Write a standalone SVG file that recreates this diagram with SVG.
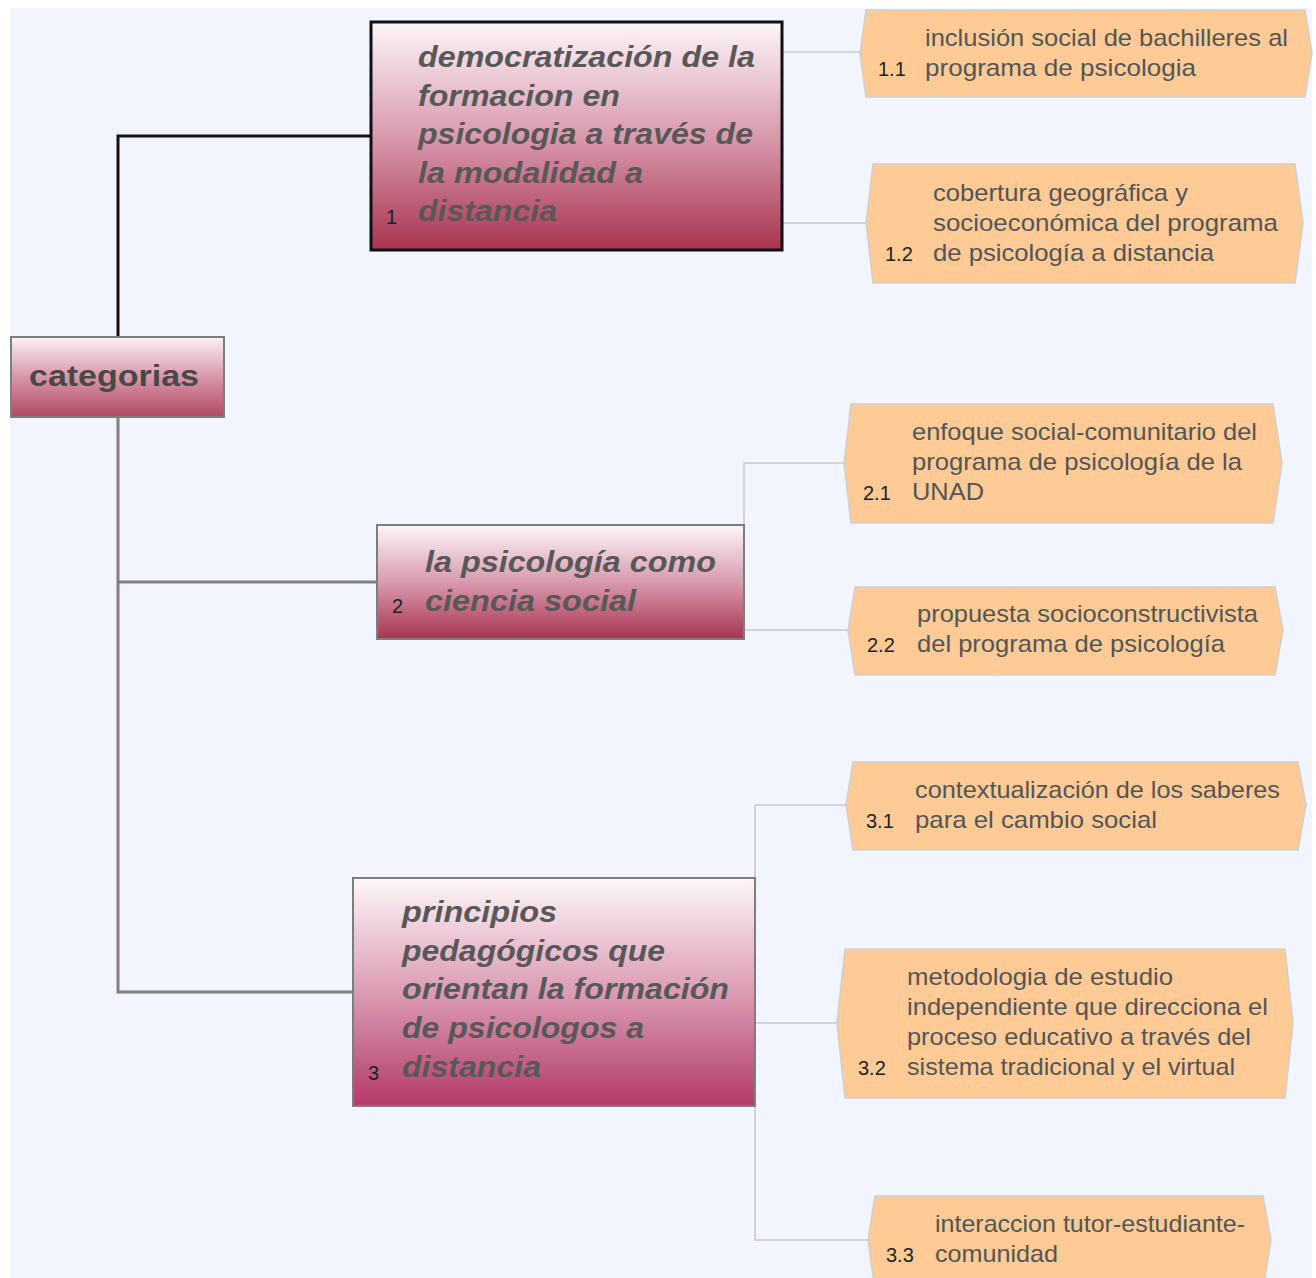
<svg xmlns="http://www.w3.org/2000/svg" width="1316" height="1278" viewBox="0 0 1316 1278">
<defs>
<linearGradient id="gPink" x1="0" y1="0" x2="0" y2="1">
<stop offset="0" stop-color="#fdf6f9"/>
<stop offset="0.5" stop-color="#d99aae"/>
<stop offset="1" stop-color="#a8344f"/>
</linearGradient>
<linearGradient id="gPink3" x1="0" y1="0" x2="0" y2="1">
<stop offset="0" stop-color="#fdf6f9"/>
<stop offset="0.5" stop-color="#db9cb4"/>
<stop offset="1" stop-color="#b33a68"/>
</linearGradient>
<linearGradient id="gRoot" x1="0" y1="0" x2="0" y2="1">
<stop offset="0" stop-color="#fbf2f5"/>
<stop offset="0.5" stop-color="#d896a8"/>
<stop offset="1" stop-color="#b04a62"/>
</linearGradient>
</defs>
<style>
.main{font-family:"Liberation Sans",Arial,sans-serif;font-weight:bold;font-style:italic;font-size:29px;fill:#585858}
.root{font-family:"Liberation Sans",Arial,sans-serif;font-weight:bold;font-size:30px;fill:#484848}
.num{font-family:"Liberation Sans",Arial,sans-serif;font-size:20px;fill:#222}
.lnum{font-family:"Liberation Sans",Arial,sans-serif;font-size:20px;fill:#222}
.leaf{font-family:"Liberation Sans",Arial,sans-serif;font-size:24px;fill:#555}
.leafshape{fill:#fecb96;stroke:#cfcfcf;stroke-width:1.5}
.thin{stroke:#c8c8c8;stroke-width:1.5;fill:none}
</style>
<rect x="0" y="0" width="1316" height="1278" fill="#ffffff"/>
<rect x="10" y="8" width="1302" height="1270" fill="#f2f5fd"/>

<g id="connectors">
<polyline points="118,337 118,136 370,136" fill="none" stroke="#111" stroke-width="3"/>
<polyline points="118,417 118,992 353,992" fill="none" stroke="#808080" stroke-width="3"/>
<line x1="118" y1="582" x2="376" y2="582" stroke="#808080" stroke-width="3"/>
<line class="thin" x1="783" y1="52" x2="860" y2="52"/>
<line class="thin" x1="783" y1="223" x2="866" y2="223"/>
<polyline class="thin" points="744,525 744,463 844,463"/>
<line class="thin" x1="744" y1="630" x2="848" y2="630"/>
<polyline class="thin" points="755,805 846,805"/>
<polyline class="thin" points="755,805 755,1240 868,1240"/>
<line class="thin" x1="755" y1="1023" x2="837" y2="1023"/>
</g>

<g id="root">
<rect x="11" y="337" width="213" height="80" fill="url(#gRoot)" stroke="#7d7d7d" stroke-width="2"/>
<text class="root" x="29" y="386" textLength="170" lengthAdjust="spacingAndGlyphs">categorias</text>
</g>

<g id="n1">
<rect x="371" y="22" width="411" height="228" fill="url(#gPink)" stroke="#111" stroke-width="3"/>
<text class="main" x="418" y="67" textLength="337" lengthAdjust="spacingAndGlyphs">democratización de la</text>
<text class="main" x="418" y="106" textLength="202" lengthAdjust="spacingAndGlyphs">formacion en</text>
<text class="main" x="418" y="144" textLength="335" lengthAdjust="spacingAndGlyphs">psicologia a través de</text>
<text class="main" x="418" y="183" textLength="225" lengthAdjust="spacingAndGlyphs">la modalidad a</text>
<text class="main" x="418" y="221" textLength="139" lengthAdjust="spacingAndGlyphs">distancia</text>
<text class="num" x="386" y="224">1</text>
</g>

<g id="n2">
<rect x="377" y="525" width="367" height="114" fill="url(#gPink)" stroke="#7d7d7d" stroke-width="2"/>
<text class="main" x="425" y="572" textLength="291" lengthAdjust="spacingAndGlyphs">la psicología como</text>
<text class="main" x="425" y="611" textLength="211" lengthAdjust="spacingAndGlyphs">ciencia social</text>
<text class="num" x="392" y="613">2</text>
</g>

<g id="n3">
<rect x="353" y="878" width="402" height="228" fill="url(#gPink3)" stroke="#7d7d7d" stroke-width="2"/>
<text class="main" x="402" y="922" textLength="155" lengthAdjust="spacingAndGlyphs">principios</text>
<text class="main" x="402" y="961" textLength="263" lengthAdjust="spacingAndGlyphs">pedagógicos que</text>
<text class="main" x="402" y="999" textLength="327" lengthAdjust="spacingAndGlyphs">orientan la formación</text>
<text class="main" x="402" y="1038" textLength="242" lengthAdjust="spacingAndGlyphs">de psicologos a</text>
<text class="main" x="402" y="1077" textLength="139" lengthAdjust="spacingAndGlyphs">distancia</text>
<text class="num" x="368" y="1080">3</text>
</g>

<g id="l11">
<polygon class="leafshape" points="866,10 1305,10 1312,53 1305,97 866,97 860,53"/>
<text class="leaf" x="925" y="46" textLength="363" lengthAdjust="spacingAndGlyphs">inclusión social de bachilleres al</text>
<text class="leaf" x="925" y="76" textLength="271" lengthAdjust="spacingAndGlyphs">programa de psicologia</text>
<text class="lnum" x="878" y="76">1.1</text>
</g>

<g id="l12">
<polygon class="leafshape" points="873,164 1295,164 1303,223 1295,283 873,283 866,223"/>
<text class="leaf" x="933" y="201" textLength="255" lengthAdjust="spacingAndGlyphs">cobertura geográfica y</text>
<text class="leaf" x="933" y="231" textLength="345" lengthAdjust="spacingAndGlyphs">socioeconómica del programa</text>
<text class="leaf" x="933" y="261" textLength="281" lengthAdjust="spacingAndGlyphs">de psicología a distancia</text>
<text class="lnum" x="885" y="261">1.2</text>
</g>

<g id="l21">
<polygon class="leafshape" points="851,404 1273,404 1282,463 1273,523 851,523 844,463"/>
<text class="leaf" x="912" y="440" textLength="345" lengthAdjust="spacingAndGlyphs">enfoque social-comunitario del</text>
<text class="leaf" x="912" y="470" textLength="330" lengthAdjust="spacingAndGlyphs">programa de psicología de la</text>
<text class="leaf" x="912" y="500" textLength="72" lengthAdjust="spacingAndGlyphs">UNAD</text>
<text class="lnum" x="863" y="500">2.1</text>
</g>

<g id="l22">
<polygon class="leafshape" points="855,587 1275,587 1283,630 1275,675 855,675 848,630"/>
<text class="leaf" x="917" y="622" textLength="341" lengthAdjust="spacingAndGlyphs">propuesta socioconstructivista</text>
<text class="leaf" x="917" y="652" textLength="308" lengthAdjust="spacingAndGlyphs">del programa de psicología</text>
<text class="lnum" x="867" y="652">2.2</text>
</g>

<g id="l31">
<polygon class="leafshape" points="853,762 1298,762 1306,805 1298,850 853,850 846,805"/>
<text class="leaf" x="915" y="798" textLength="365" lengthAdjust="spacingAndGlyphs">contextualización de los saberes</text>
<text class="leaf" x="915" y="828" textLength="242" lengthAdjust="spacingAndGlyphs">para el cambio social</text>
<text class="lnum" x="866" y="828">3.1</text>
</g>

<g id="l32">
<polygon class="leafshape" points="845,949 1285,949 1293,1023 1285,1098 845,1098 837,1023"/>
<text class="leaf" x="907" y="985" textLength="266" lengthAdjust="spacingAndGlyphs">metodologia de estudio</text>
<text class="leaf" x="907" y="1015" textLength="361" lengthAdjust="spacingAndGlyphs">independiente que direcciona el</text>
<text class="leaf" x="907" y="1045" textLength="344" lengthAdjust="spacingAndGlyphs">proceso educativo a través del</text>
<text class="leaf" x="907" y="1075" textLength="328" lengthAdjust="spacingAndGlyphs">sistema tradicional y el virtual</text>
<text class="lnum" x="858" y="1075">3.2</text>
</g>

<g id="l33">
<polygon class="leafshape" points="875,1196 1263,1196 1271,1240 1263,1290 875,1290 868,1240"/>
<text class="leaf" x="935" y="1232" textLength="310" lengthAdjust="spacingAndGlyphs">interaccion tutor-estudiante-</text>
<text class="leaf" x="935" y="1262" textLength="123" lengthAdjust="spacingAndGlyphs">comunidad</text>
<text class="lnum" x="886" y="1262">3.3</text>
</g>
</svg>
